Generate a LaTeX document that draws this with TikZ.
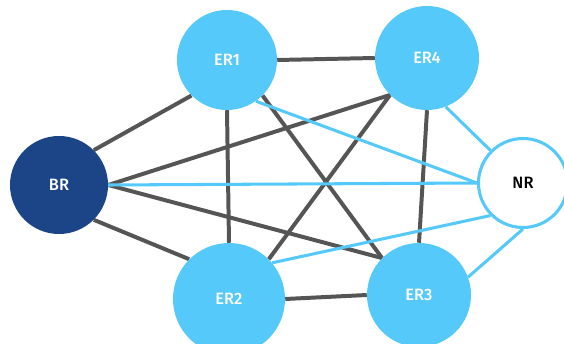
\documentclass[tikz,border=0pt]{standalone}
\usepackage{fontspec}
\setsansfont{Fira Sans}[BoldFont={Fira Sans Medium}]
\usetikzlibrary{backgrounds}
\definecolor{edgeblue}{RGB}{85,201,250}
\definecolor{corenavy}{RGB}{28,69,135}
\definecolor{linkgray}{RGB}{85,85,85}
\tikzset{
  router/.style = {
    circle, inner sep=0pt, font=\sffamily\bfseries\fontsize{14}{17}\selectfont
  },
  border/.style = {router, fill=corenavy, text=white},
  edgerouter/.style = {router, fill=edgeblue, text=white},
  neighbour/.style = {router, draw=edgeblue, line width=2.6pt, fill=white, text=black},
  link/.style = {line width=3.4pt, draw=linkgray},
  peer/.style = {line width=2.6pt, draw=edgeblue},
}

\begin{document}
\begin{tikzpicture}[x=0.03cm, y=-0.03cm]
    \useasboundingbox (0,0) rectangle (564,344);

    % Routers
    \node[border, minimum size=2.94cm] (br) at (59,185) {BR};
    \node[edgerouter, minimum size=3.0cm] (er1) at (227,60) {ER1};
    \node[edgerouter, minimum size=3.12cm] (er4) at (427,58) {ER4};
    \node[edgerouter, minimum size=3.36cm] (er2) at (229,299) {ER2};
    \node[edgerouter, minimum size=3.12cm] (er3) at (419,295) {ER3};
    \node[neighbour, minimum size=2.67cm] (nr) at (523,183) {NR};

    \begin{scope}[on background layer]
    % Links between the routers
    \draw[link] (br.north east) -- (er1.south west);
    \draw[link] (br.south east) -- (er2.north west);
    \draw[link] (br.east) -- (er4.south west);
    \draw[link] (br.east) -- (er3.north west);
    \draw[link] (er1.east) -- (er4.west);
    \draw[link] (er1.south) -- (er2.north);
    \draw[link] (er1.south east) -- (er3.north west);
    \draw[link] (er4.south west) -- (er2.north east);
    \draw[link] (er4.south) -- (er3.north);
    \draw[link] (er2.east) -- (er3.west);

    % Links to NR
    \draw[peer] (br.east) -- (nr.west);
    \draw[peer] (er1.305) -- (nr.west);
    \draw[peer] (er4.291) -- (nr.north west);
    \draw[peer] (er2.40) -- (nr.south west);
    \draw[peer] (er3.20) -- (nr.south);
    \end{scope}

\end{tikzpicture}
\end{document}
